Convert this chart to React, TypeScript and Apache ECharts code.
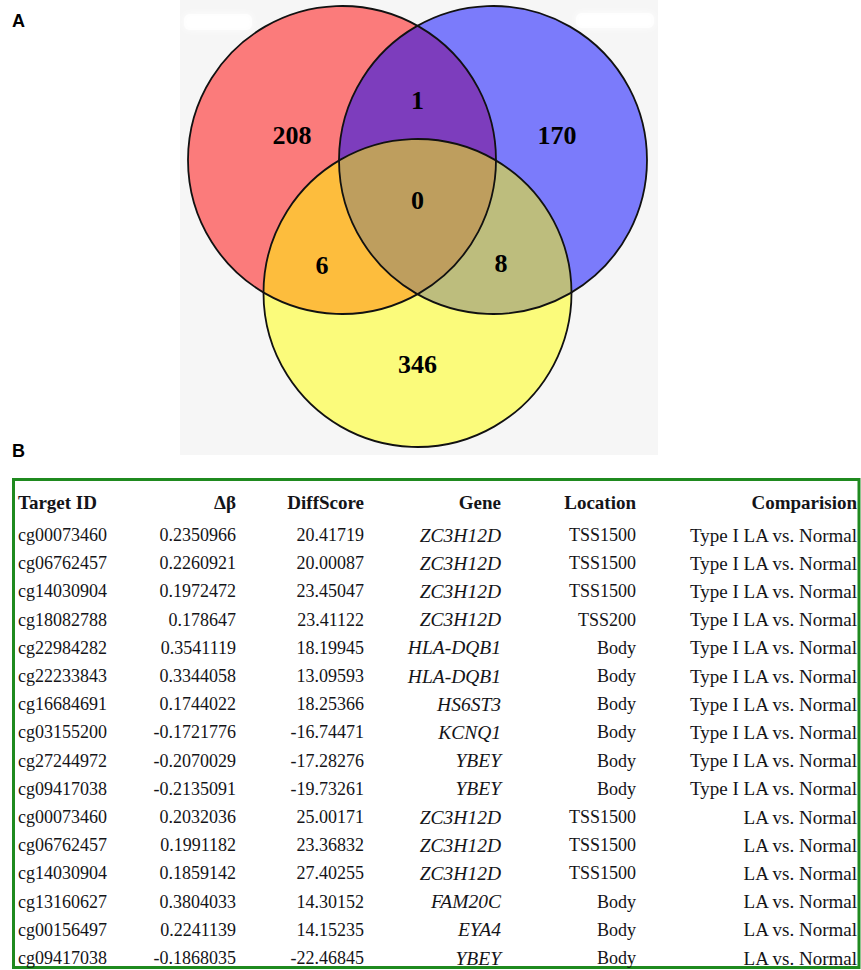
import React, { useEffect, useRef } from "react";
import * as echarts from "echarts";

// ---- Venn counts: exclusive and shared regions of the three sets ----
const regionCounts = [208, 170, 346, 1, 6, 8, 0]; // red, blue, yellow, red∩blue, red∩yellow, blue∩yellow, all

// ---- Table data ----
const tableHeaders = ["Target ID", "Δβ", "DiffScore", "Gene", "Location", "Comparision"];
const targetIds = [
  "cg00073460", "cg06762457", "cg14030904", "cg18082788", "cg22984282", "cg22233843",
  "cg16684691", "cg03155200", "cg27244972", "cg09417038", "cg00073460", "cg06762457",
  "cg14030904", "cg13160627", "cg00156497", "cg09417038",
];
const deltaBeta = [
  0.2350966, 0.2260921, 0.1972472, 0.178647, 0.3541119, 0.3344058, 0.1744022, -0.1721776,
  -0.2070029, -0.2135091, 0.2032036, 0.1991182, 0.1859142, 0.3804033, 0.2241139, -0.1868035,
];
const diffScore = [
  20.41719, 20.00087, 23.45047, 23.41122, 18.19945, 13.09593, 18.25366, -16.74471,
  -17.28276, -19.73261, 25.00171, 23.36832, 27.40255, 14.30152, 14.15235, -22.46845,
];
const genes = [
  "ZC3H12D", "ZC3H12D", "ZC3H12D", "ZC3H12D", "HLA-DQB1", "HLA-DQB1", "HS6ST3", "KCNQ1",
  "YBEY", "YBEY", "ZC3H12D", "ZC3H12D", "ZC3H12D", "FAM20C", "EYA4", "YBEY",
];
const locations = [
  "TSS1500", "TSS1500", "TSS1500", "TSS200", "Body", "Body", "Body", "Body",
  "Body", "Body", "TSS1500", "TSS1500", "TSS1500", "Body", "Body", "Body",
];
const comparisons = [
  "Type I LA vs. Normal", "Type I LA vs. Normal", "Type I LA vs. Normal", "Type I LA vs. Normal",
  "Type I LA vs. Normal", "Type I LA vs. Normal", "Type I LA vs. Normal", "Type I LA vs. Normal",
  "Type I LA vs. Normal", "Type I LA vs. Normal", "LA vs. Normal", "LA vs. Normal",
  "LA vs. Normal", "LA vs. Normal", "LA vs. Normal", "LA vs. Normal",
];

// ---- Layout (panel units = pixels inside the Venn panel) ----
const PANEL = { left: 180, top: 0, width: 478, height: 455 };
const CIRCLES = [
  { cx: 162, cy: 160, r: 154 },
  { cx: 313, cy: 160, r: 154 },
  { cx: 237.5, cy: 293, r: 154 },
];
const CIRCLE_FILLS = ["rgba(255,0,0,0.5)", "rgba(0,0,255,0.5)", "rgba(255,255,0,0.5)"];
const REGION_ANCHORS = [
  [112, 135], [377, 135], [237.5, 364], [237.5, 100], [142, 265], [321, 263], [237.5, 200],
];

const SERIF = "'Liberation Serif', 'Times New Roman', serif";
const SANS = "'Liberation Sans', Arial, sans-serif";
const TEXT_COLOR = "#141418";

const COLS = [
  { x: 18, align: "left", font: `18px ${SERIF}` },
  { x: 236, align: "right", font: `18px ${SERIF}` },
  { x: 364, align: "right", font: `18px ${SERIF}` },
  { x: 501, align: "right", font: `italic 19.5px ${SERIF}` },
  { x: 636, align: "right", font: `18px ${SERIF}` },
  { x: 857, align: "right", font: `19px ${SERIF}` },
];
const HEADER_FONT = `bold 19px ${SERIF}`;
const HEADER_Y = 502;
const ROW_Y0 = 535;
const ROW_STEP = 28.2;

function buildTable(): any[] {
  const els: any[] = [];
  els.push({
    type: "rect",
    shape: { x: 13.5, y: 479.5, width: 845.5, height: 488 },
    style: { fill: "none", stroke: "#1f8a1f", lineWidth: 3 },
    z: 5,
  });
  tableHeaders.forEach((h, c) => {
    els.push({
      type: "text",
      x: COLS[c].x,
      y: HEADER_Y,
      style: {
        text: h,
        align: COLS[c].align,
        verticalAlign: "middle",
        font: HEADER_FONT,
        fill: TEXT_COLOR,
      },
      z: 5,
    });
  });
  const columns = [
    targetIds,
    deltaBeta.map((v) => String(v)),
    diffScore.map((v) => String(v)),
    genes,
    locations,
    comparisons,
  ];
  targetIds.forEach((_, r) => {
    columns.forEach((col, c) => {
      els.push({
        type: "text",
        x: COLS[c].x,
        y: ROW_Y0 + r * ROW_STEP,
        style: {
          text: col[r],
          align: COLS[c].align,
          verticalAlign: "middle",
          font: COLS[c].font,
          fill: TEXT_COLOR,
        },
        z: 5,
      });
    });
  });
  return els;
}

export default function App() {
  const ref = useRef<HTMLDivElement>(null);

  useEffect(() => {
    document.body.style.margin = "0";
    const chart = echarts.init(ref.current!, null, { renderer: "svg" });

    const circleData = CIRCLES.map((c, i) => [c.cx, c.cy, c.r, i]);

    chart.setOption({
      animation: false,
      backgroundColor: "#ffffff",
      grid: {
        ...PANEL,
        show: true,
        backgroundColor: "#f6f6f6",
        borderWidth: 0,
      },
      xAxis: { type: "value", min: 0, max: PANEL.width, show: false },
      yAxis: { type: "value", min: 0, max: PANEL.height, inverse: true, show: false },
      graphic: [
        // faint white patches at the top of the panel
        {
          type: "rect", shape: { x: 184, y: 14, width: 68, height: 16, r: 6 },
          style: { fill: "#ffffff", opacity: 0.85, shadowBlur: 6, shadowColor: "#ffffff" }, z: 1,
        },
        {
          type: "rect", shape: { x: 576, y: 13, width: 78, height: 15, r: 6 },
          style: { fill: "#ffffff", opacity: 0.85, shadowBlur: 6, shadowColor: "#ffffff" }, z: 1,
        },
        {
          type: "text", x: 12, y: 21,
          style: { text: "A", font: `bold 18px ${SANS}`, fill: "#000", verticalAlign: "middle" },
        },
        {
          type: "text", x: 12, y: 451,
          style: { text: "B", font: `bold 18px ${SANS}`, fill: "#000", verticalAlign: "middle" },
        },
        ...buildTable(),
      ],
      series: [
        {
          type: "custom",
          coordinateSystem: "cartesian2d",
          silent: true,
          z: 2,
          data: circleData,
          renderItem: (_p: any, api: any) => {
            const c = api.coord([api.value(0), api.value(1)]);
            const r = api.size([api.value(2), 0])[0];
            return {
              type: "circle",
              shape: { cx: c[0], cy: c[1], r },
              style: { fill: CIRCLE_FILLS[api.value(3)], stroke: null },
            };
          },
        },
        {
          type: "custom",
          coordinateSystem: "cartesian2d",
          silent: true,
          z: 3,
          data: circleData,
          renderItem: (_p: any, api: any) => {
            const c = api.coord([api.value(0), api.value(1)]);
            const r = api.size([api.value(2), 0])[0];
            return {
              type: "circle",
              shape: { cx: c[0], cy: c[1], r },
              style: { fill: "none", stroke: "#111111", lineWidth: 1.8 },
            };
          },
        },
        {
          type: "custom",
          coordinateSystem: "cartesian2d",
          silent: true,
          z: 4,
          data: REGION_ANCHORS.map((a, i) => [a[0], a[1], regionCounts[i]]),
          renderItem: (_p: any, api: any) => {
            const c = api.coord([api.value(0), api.value(1)]);
            return {
              type: "text",
              x: c[0],
              y: c[1],
              style: {
                text: String(api.value(2)),
                font: `bold 26px ${SERIF}`,
                fill: "#000",
                align: "center",
                verticalAlign: "middle",
              },
            };
          },
        },
      ],
    });

    return () => chart.dispose();
  }, []);

  return (
    <div
      ref={ref}
      style={{ position: "absolute", left: 0, top: 0, width: 861, height: 970 }}
    />
  );
}
